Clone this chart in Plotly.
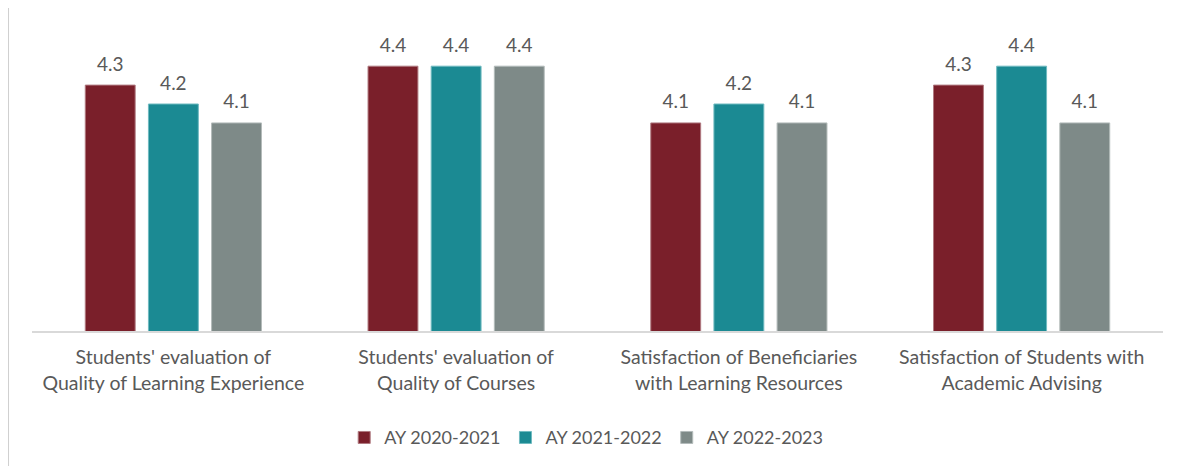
import plotly.graph_objects as go

categories = [
    "Students' evaluation of<br>Quality of Learning Experience",
    "Students' evaluation of<br>Quality of Courses",
    "Satisfaction of Beneficiaries<br>with Learning Resources",
    "Satisfaction of Students with<br>Academic Advising",
]
series_names = ["AY 2020-2021", "AY 2021-2022", "AY 2022-2023"]
ay_2020_2021 = [4.3, 4.4, 4.1, 4.3]
ay_2021_2022 = [4.2, 4.4, 4.2, 4.4]
ay_2022_2023 = [4.1, 4.4, 4.1, 4.1]

colors = ["#7A1F2A", "#1B8A93", "#7E8A88"]
edge_colors = ["#B07A80", "#6FBAC0", "#B3BBBA"]
FONT = "Lato, Open Sans, sans-serif"

all_series = [ay_2020_2021, ay_2021_2022, ay_2022_2023]

fig = go.Figure()
for name, vals, c, ec in zip(series_names, all_series, colors, edge_colors):
    fig.add_trace(go.Bar(
        name=name,
        x=categories,
        y=vals,
        marker=dict(color=c, line=dict(color=ec, width=1)),
        hoverinfo="skip",
    ))

# value labels, grouped like the bars
for name, vals in zip(series_names, all_series):
    fig.add_trace(go.Scatter(
        x=categories,
        y=vals,
        mode="markers+text",
        marker=dict(size=14, color="rgba(0,0,0,0)"),
        text=[f"{v:.1f}" for v in vals],
        textposition="top center",
        textfont=dict(size=19, color="#595959", family=FONT),
        showlegend=False,
        hoverinfo="skip",
        cliponaxis=False,
    ))

fig.update_layout(
    width=1175, height=460,
    barmode="group",
    scattermode="group",
    bargap=0.33,
    bargroupgap=0.21,
    scattergap=0.33,
    plot_bgcolor="white",
    paper_bgcolor="white",
    margin=dict(l=24, r=20, t=9, b=137, autoexpand=False),
    font=dict(family=FONT, size=19, color="#595959"),
    xaxis=dict(
        showline=True, linecolor="#D9D9D9", linewidth=1.5,
        ticks="", tickfont=dict(size=19.5, color="#595959", family=FONT),
        showgrid=False, automargin=False, ticklabelstandoff=8,
    ),
    yaxis=dict(
        range=[3.0, 4.66], visible=False, showgrid=False, zeroline=False,
        automargin=False,
    ),
    legend=dict(
        orientation="h", x=0.49, xanchor="center", y=-0.34, yanchor="middle",
        font=dict(size=18, color="#595959", family=FONT),
        itemwidth=30, traceorder="normal",
    ),
    shapes=[dict(type="line", xref="paper", yref="paper",
                 x0=-0.0212, x1=-0.0212, y0=-0.43, y1=1.03,
                 line=dict(color="#D0D0D0", width=2))],
    showlegend=True,
)

fig.write_html("out.html")
